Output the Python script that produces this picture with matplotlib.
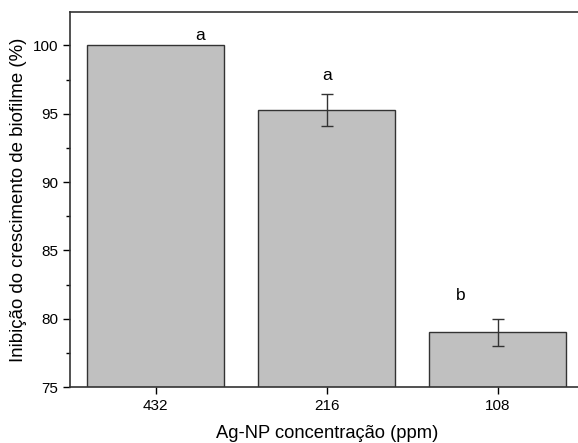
import numpy as np
import matplotlib.pyplot as plt
from matplotlib.ticker import MultipleLocator

plt.rcParams['font.family'] = ['Liberation Sans', 'DejaVu Sans']

conc = ['432', '216', '108']
inhib = [100.0, 95.3, 79.0]
err = [0.0, 1.17, 1.0]
letters = ['a', 'a', 'b']
letter_x = [0.26, 0.0, -0.22]   # offset from bar centre
letter_y = [100.75, 97.8, 81.7]

fig = plt.figure(figsize=(5.78, 4.43), dpi=100)
ax = fig.add_axes([70/578, 1 - 387/443, 513.5/578, 375/443])

x = np.arange(len(conc))
ax.bar(x, inhib, width=0.8, color='#c0c0c0', edgecolor='#333333', linewidth=1.0, zorder=2)
ax.errorbar(x[1:], inhib[1:], yerr=err[1:], fmt='none', ecolor='#333333',
            elinewidth=1.0, capsize=4, capthick=1.0, zorder=3)
for i, l in enumerate(letters):
    ax.text(x[i] + letter_x[i], letter_y[i], l, ha='center', va='center', fontsize=12.5)

ax.set_xlim(-0.5, 2.5)
ax.set_ylim(75, 102.45)
ax.set_xticks(x)
ax.set_xticklabels(conc)
ax.yaxis.set_major_locator(MultipleLocator(5))
ax.yaxis.set_minor_locator(MultipleLocator(2.5))
ax.tick_params(axis='both', which='major', direction='out', length=5, width=1, labelsize=11)
ax.tick_params(axis='y', which='minor', direction='out', length=3, width=1)
for s in ax.spines.values():
    s.set_color('#333333')
    s.set_linewidth(1.2)
ax.spines['right'].set_visible(False)

ax.set_xlabel('Ag-NP concentração (ppm)', fontsize=13.2, labelpad=9)
ax.set_ylabel('Inibição do crescimento de biofilme (%)', fontsize=13.4, labelpad=4)

fig.savefig('out.png', dpi=100)
